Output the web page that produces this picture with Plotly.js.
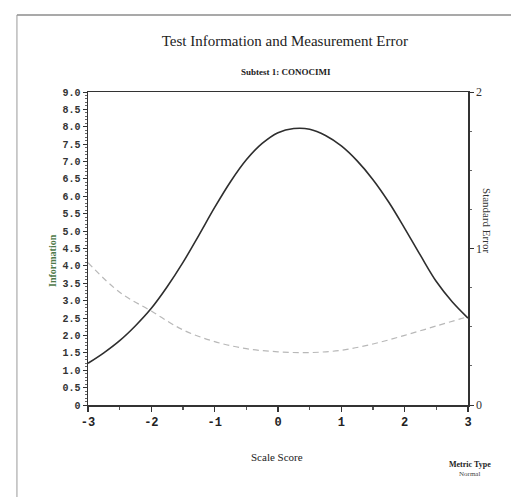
<!DOCTYPE html>
<html>
<head>
<meta charset="utf-8">
<script src="https://cdn.plot.ly/plotly-3.0.1.min.js"></script>
<style>html,body{margin:0;padding:0;background:#fff;}#chart{width:511px;height:497px;}</style>
</head>
<body>
<div id="chart"></div>
<script>
// Scale score grid for the information curve
var infoScore = [-3, -2.75, -2.5, -2.25, -2, -1.75, -1.5, -1.25, -1, -0.75, -0.5, -0.25, 0, 0.25, 0.5, 0.75, 1, 1.25, 1.5, 1.75, 2, 2.25, 2.5, 2.75, 3];
var information = [1.20, 1.50, 1.85, 2.28, 2.78, 3.40, 4.10, 4.88, 5.68, 6.42, 7.05, 7.52, 7.83, 7.95, 7.93, 7.75, 7.45, 7.02, 6.48, 5.83, 5.08, 4.30, 3.55, 2.97, 2.50];
// Scale score grid for the standard error curve
var seScore = [-3, -2.5, -2, -1.5, -1, -0.5, 0, 0.5, 1, 1.5, 2, 2.5, 3];
var standardError = [0.91, 0.72, 0.60, 0.48, 0.405, 0.36, 0.34, 0.335, 0.35, 0.39, 0.445, 0.505, 0.565];
// Tick labels
var xTickVals = [-3, -2, -1, 0, 1, 2, 3];
var xTickText = ["-3", "-2", "-1", "0", "1", "2", "3"];
var yTickVals = [0, 0.5, 1, 1.5, 2, 2.5, 3, 3.5, 4, 4.5, 5, 5.5, 6, 6.5, 7, 7.5, 8, 8.5, 9];
var yTickText = ["0", "0.5", "1.0", "1.5", "2.0", "2.5", "3.0", "3.5", "4.0", "4.5", "5.0", "5.5", "6.0", "6.5", "7.0", "7.5", "8.0", "8.5", "9.0"];
var y2TickVals = [0, 1, 2];
var y2TickText = ["0", "1", "2"];

var traces = [
  {x: infoScore, y: information, type: 'scatter', mode: 'lines', name: 'Information',
   line: {color: '#2e2e2e', width: 1.6, shape: 'spline', smoothing: 1}, xaxis: 'x', yaxis: 'y'},
  {x: seScore, y: standardError, type: 'scatter', mode: 'lines', name: 'Standard Error',
   line: {color: '#b8b8b8', width: 1.2, dash: '6px,4px', shape: 'spline'}, xaxis: 'x', yaxis: 'y2'}
];

var serif = 'Liberation Serif, Times New Roman, serif';
var mono = 'Liberation Mono, DejaVu Sans Mono, monospace';

var layout = {
  width: 511, height: 497,
  margin: {l: 88, r: 43, t: 92, b: 92},
  paper_bgcolor: '#ffffff', plot_bgcolor: '#ffffff',
  showlegend: false,
  title: {text: 'Test Information and Measurement Error', font: {family: serif, size: 15, color: '#222'},
          xref: 'paper', x: 0.518, xanchor: 'center', yref: 'container', y: 0.918, yanchor: 'middle'},
  xaxis: {range: [-3, 3], showgrid: false, zeroline: false, showline: true, linecolor: '#333', linewidth: 1.5,
          mirror: true, ticks: 'outside', ticklen: 5, tickwidth: 1.2, tickcolor: '#333',
          tickvals: xTickVals, ticktext: xTickText, tickfont: {family: mono, size: 12, color: '#222', weight: 'bold'},
          minor: {dtick: 0.5, ticks: 'outside', ticklen: 3, tickcolor: '#555'}},
  yaxis: {range: [0, 9], showgrid: false, zeroline: false, showline: true, linecolor: '#333', linewidth: 1.5,
          ticks: 'outside', ticklen: 4, tickwidth: 1, tickcolor: '#333',
          tickvals: yTickVals, ticktext: yTickText, tickfont: {family: mono, size: 10, color: '#333', weight: 'bold'},
          ticklabelstandoff: 0,
          minor: {dtick: 0.1, ticks: 'outside', ticklen: 2, tickcolor: '#666'}},
  yaxis2: {range: [0, 2], overlaying: 'y', side: 'right', showgrid: false, zeroline: false, showline: true,
           linecolor: '#333', linewidth: 1.5, ticks: 'outside', ticklen: 4, tickcolor: '#333',
           tickvals: y2TickVals, ticktext: y2TickText, tickfont: {family: serif, size: 12, color: '#333'},
           minor: {dtick: 0.25, ticks: 'outside', ticklen: 2, tickcolor: '#666'}},
  annotations: [
    {text: 'Subtest 1: CONOCIMI', xref: 'paper', yref: 'paper', x: 0.52, y: 1.064, showarrow: false,
     font: {family: serif, size: 9, color: '#222', weight: 'bold'}, xanchor: 'center', yanchor: 'middle'},
    {text: 'Information', xref: 'paper', yref: 'paper', x: -0.095, y: 0.463, showarrow: false, textangle: -90,
     font: {family: serif, size: 10, color: '#4f7a4a', weight: 'bold'}, xanchor: 'center', yanchor: 'middle'},
    {text: 'Standard Error', xref: 'paper', yref: 'paper', x: 1.05, y: 0.591, showarrow: false, textangle: 90,
     font: {family: serif, size: 11, color: '#333'}, xanchor: 'center', yanchor: 'middle'},
    {text: 'Scale Score', xref: 'paper', yref: 'paper', x: 0.497, y: -0.166, showarrow: false,
     font: {family: serif, size: 11, color: '#222'}, xanchor: 'center', yanchor: 'middle'},
    {text: 'Metric Type', xref: 'paper', yref: 'paper', x: 1.005, y: -0.19, showarrow: false,
     font: {family: serif, size: 8, color: '#222', weight: 'bold'}, xanchor: 'center', yanchor: 'middle'},
    {text: 'Normal', xref: 'paper', yref: 'paper', x: 1.005, y: -0.222, showarrow: false,
     font: {family: serif, size: 7, color: '#444'}, xanchor: 'center', yanchor: 'middle'}
  ],
  shapes: [
    {type: 'line', xref: 'paper', yref: 'paper', x0: -0.187, x1: 1.12, y0: 1.246, y1: 1.246, line: {color: '#555', width: 1.2}},
    {type: 'line', xref: 'paper', yref: 'paper', x0: -0.187, x1: -0.187, y0: 1.246, y1: -0.3, line: {color: '#999', width: 1}}
  ]
};

Plotly.newPlot('chart', traces, layout, {displayModeBar: false, staticPlot: true});
</script>
</body>
</html>
